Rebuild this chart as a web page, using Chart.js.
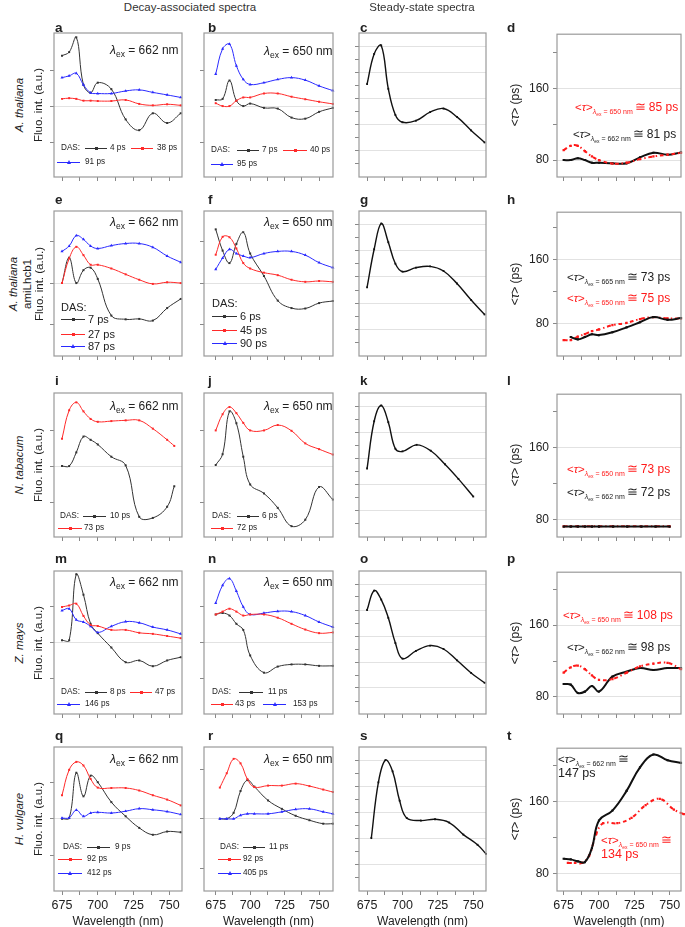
<!DOCTYPE html>
<html><head><meta charset="utf-8">
<script src="https://cdn.jsdelivr.net/npm/chart.js@4.4.1/dist/chart.umd.min.js"></script>
<style>
html,body{margin:0;padding:0;background:#fff;width:685px;height:927px;overflow:hidden;font-family:"Liberation Sans",Arial,Helvetica,sans-serif;color:#222}
#root{position:relative;width:685px;height:927px}
.abs{position:absolute;white-space:nowrap;line-height:1;transform:translateY(-50%)}
.ctr{position:absolute;white-space:nowrap;line-height:1;transform:translate(-50%,-50%)}
.rot{position:absolute;white-space:nowrap;line-height:1;transform:translate(-50%,-50%) rotate(-90deg)}
canvas{position:absolute}
.lt{position:absolute;font-weight:bold;font-size:13.5px;line-height:1;transform:translateY(-50%)}
</style></head><body><div id="root"></div>
<script>
// ---------- wavelengths (nm) ----------
const wl  = [675,680,685,690,695,700,709.5,719.5,729,738.5,748.5,758];
const wlB = [675,680,685,690,695,700,710,720,730,740,750,760];
const wlI = [675,680,685,690,695,700,709.5,719.5,729,738.5,748.5,753.5];
const wlK = [675,680,685,690,695,700,710,720,730,739.5,750];
const wlL = [675,680,685,690,695,700,710,720,730,740,750];
const wlR = [678,683,688,693,698,703,713,723,733,743,753,760];
const wlS = [678,683,688,693,698,703,713,723,733,743,753,759];
const xTickVals = [675,687.5,700,712.5,725,737.5,750];

// ---------- row 1: A. thaliana ----------
const a4   = [1.40,1.50,1.91,0.59,0.37,0.65,0.47,-0.37,-0.67,-0.20,-0.47,-0.20];
const a38  = [0.20,0.22,0.20,0.15,0.15,0.14,0.14,0.17,0.06,0.02,0.05,0.02];
const a91  = [0.79,0.84,0.91,0.59,0.37,0.35,0.35,0.42,0.45,0.38,0.31,0.24];
const b7   = [0.17,0.20,0.71,0.15,0.00,0.07,-0.05,-0.07,-0.32,-0.35,-0.16,-0.05];
const b40  = [0.08,0.00,0.00,0.15,0.24,0.24,0.35,0.35,0.26,0.19,0.12,0.06];
const b95  = [0.89,1.59,1.72,1.12,0.74,0.60,0.65,0.74,0.79,0.72,0.56,0.43];
const cSS  = [7.1,9.4,10.05,6.74,4.74,4.18,4.3,4.95,5.23,4.59,3.56,2.64];
const d662 = [80,80,82,80,77,77,76.3,76.3,83,88.2,86,88.6];
const d650 = [91,96,96,90,84,80,76,77,81,84,86,88];
// ---------- row 2: A. thaliana amiLhcb1 ----------
const e7   = [0,0.61,0,0.31,0.37,0.10,-0.78,-0.87,-0.86,-0.90,-0.60,-0.38];
const e27  = [0,0.59,0.87,0.67,0.44,0.44,0.35,0.21,0.08,-0.02,0.02,0];
const e87  = [0.76,0.89,1.14,1.05,0.89,0.83,0.90,0.95,0.95,0.86,0.65,0.50];
const f6   = [1.29,0.78,0.48,0.94,1.22,0.71,0.17,-0.42,-0.60,-0.61,-0.48,-0.43];
const f45  = [0.68,1.11,1.10,0.83,0.48,0.35,0.25,0.19,0.08,0.03,0.05,0.03];
const f90  = [0.33,0.60,0.81,0.71,0.65,0.61,0.71,0.76,0.76,0.67,0.49,0.37];
const gSS  = [5.2,8.1,10.05,8.63,7.0,6.4,6.7,6.8,6.45,5.5,4.25,3.15];
const h665 = [null,63.6,60.7,63.6,67,66,69.6,75.7,82,88.4,85,87.2];
const h650 = [59.9,59.9,64,67.3,71,73,78.4,81.2,86,88.4,86.8,86.8];
// ---------- row 3: N. tabacum ----------
const i10  = [0,0,0.38,0.82,0.73,0.60,0.26,0.02,-1.41,-1.44,-1.13,-0.56];
const i73  = [0.76,1.55,1.77,1.52,1.31,1.23,1.25,1.27,1.27,1.04,0.73,0.56];
const j6   = [0.03,0.33,1.52,1.19,0.26,-0.51,-0.76,-1.16,-1.67,-1.49,-0.58,-0.93];
const j72  = [0.99,1.44,1.64,1.47,1.20,0.99,0.99,1.14,0.98,0.63,0.47,0.32];
const kSS  = [5.23,8.84,10.05,8.77,6.74,6.54,7.04,6.59,5.56,4.44,3.09];
const l662 = [72.5,72.5,72.5,72.5,72.5,72.5,72.5,72.5,72.5,72.5,72.5];
const l650 = [72.8,72.8,72.8,72.8,72.8,72.8,72.8,72.8,72.8,72.8,72.8];
// ---------- row 4: Z. mays ----------
const m8   = [0.07,0.07,1.91,1.34,0.53,0.27,-0.13,-0.54,-0.49,-0.65,-0.49,-0.40];
const m47  = [1.0,1.04,1.09,0.75,0.50,0.47,0.36,0.36,0.28,0.25,0.19,0.13];
const m146 = [0.9,0.95,0.64,0.58,0.46,0.29,0.46,0.59,0.56,0.44,0.36,0.25];
const n11  = [0.79,0.83,0.76,0.53,0.36,-0.35,-0.83,-0.66,-0.60,-0.60,-0.64,-0.64];
const n43  = [0.79,0.87,0.95,0.87,0.76,0.79,0.79,0.70,0.53,0.37,0.27,0.29];
const n153 = [1.11,1.60,1.79,1.44,1.0,0.79,0.83,0.88,0.87,0.76,0.58,0.44];
const oSS  = [8.0,9.49,8.8,7.4,5.46,4.26,4.85,5.26,5.0,4.13,3.16,2.4];
const p662 = [94.4,93.7,84.4,85.9,92.2,86,102.6,108.1,112.2,110,112.2,112.2];
const p650 = [107,113,115,111,104,99,100,107,114,117,118,111];
// ---------- row 5: H. vulgare ----------
const q9   = [0,0.02,1.27,0.62,1.19,1.01,0.46,0.07,-0.25,-0.44,-0.35,-0.37];
const q92  = [0.65,1.35,1.57,1.47,1.10,0.86,0.85,0.85,0.78,0.65,0.53,0.37];
const q412 = [0.02,0.03,0.24,0.07,0.16,0.18,0.16,0.21,0.28,0.25,0.20,0.12];
const r11  = [0,0,0.12,0.56,0.78,0.65,0.37,0.20,0.06,-0.03,-0.10,-0.10];
const r92  = [0.63,0.92,1.21,1.12,0.80,0.64,0.67,0.67,0.71,0.66,0.59,0.54];
const r405 = [0,0,0,0.07,0.10,0.10,0.10,0.14,0.19,0.20,0.14,0.10];
const sSS  = [4.04,8.3,10.0,9.14,6.9,5.58,5.38,5.48,5.23,4.31,3.53,2.84];
const t662 = [96.7,96,93.8,93,108.6,139,150,171.8,197.8,212,205.7,202.7];
const t650 = [92,92,92,100,124,136,136,142,156,163,151,146];

// ---------- layout ----------
const FONT = '"Liberation Sans", Arial, Helvetica, sans-serif';
const COLX = [[54,182],[204,333],[359,486],[557,681]];
const ROWY = [[33,177],[211,356],[393,537],[571,714],[747,891]];
const XR = [[669.4,758.9],[666.5,760.1],[669.3,759],[670.3,758]];
const STY = {
  K:{c:'#333333',w:1,p:'rect',r:1.4},
  R:{c:'#ff2a2a',w:1,p:'rect',r:1.4},
  B:{c:'#2a2aff',w:1,p:'triangle',r:1.8},
  S:{c:'#111111',w:1.4,p:'rect',r:1.3},
  TK:{c:'#111111',w:2,p:'rect',r:1.5},
  TR:{c:'#ff1a1a',w:2,p:'rect',r:1.6,dash:[4,3,1.5,3]}
};
const root = document.getElementById('root');

function ds(xs, ys, key){
  const s = STY[key];
  return {data: xs.map((x,i)=>({x:x,y:ys[i]})), borderColor:s.c, backgroundColor:s.c,
    borderWidth:s.w, borderDash:s.dash||[], pointStyle:s.p, pointRadius:s.r, pointBorderWidth:0,
    tension:0.4, fill:false, clip:4};
}
const frame = {id:'frame', afterDraw(c){const a=c.chartArea,x=c.ctx;x.save();x.strokeStyle='#9a9a9a';x.lineWidth=1.2;
  x.strokeRect(a.left,a.top,a.right-a.left,a.bottom-a.top);x.restore();}};

function panel(col,row,ymin,ymax,kind,series){
  const [x0,x1]=COLX[col],[y0,y1]=ROWY[row];
  const PAD=10, YW = col===3?36:6, XH = row===4?22:6;
  const W=(x1-x0)+YW+2*PAD, H=(y1-y0)+XH+2*PAD;
  const cv=document.createElement('canvas');
  cv.style.left=(x0-PAD-YW)+'px'; cv.style.top=(y0-PAD)+'px'; cv.style.width=W+'px'; cv.style.height=H+'px';
  cv.width=W; cv.height=H; root.appendChild(cv);
  let yt, gridOn;
  if(kind==='das'){yt=[-1,0,1]; gridOn=v=>v===0;}
  else if(kind==='ss'){yt=[1,2,3,4,5,6,7,8,9,10]; gridOn=v=>v%2===0;}
  else {yt=[80,120,160,200]; gridOn=v=>v===80||v===160;}
  new Chart(cv,{type:'line',data:{datasets:series.map(s=>ds(s[0],s[1],s[2]))},
    options:{responsive:false,animation:false,events:[],layout:{padding:PAD},
      plugins:{legend:{display:false},tooltip:{enabled:false}},
      scales:{
        x:{type:'linear',min:XR[col][0],max:XR[col][1],
          afterBuildTicks:s=>{s.ticks=xTickVals.map(v=>({value:v}));},
          afterFit:s=>{s.height=XH;},
          grid:{drawOnChartArea:false,drawTicks:true,tickLength:4,tickColor:'#888',lineWidth:1},
          border:{display:false},
          ticks:{display:row===4,autoSkip:false,maxRotation:0,minRotation:0,padding:3,color:'#222',
            font:{size:12.5,family:FONT},callback:v=>(v%25===0?String(v):'')}},
        y:{type:'linear',min:ymin,max:ymax,
          afterBuildTicks:s=>{s.ticks=yt.map(v=>({value:v}));},
          afterFit:s=>{s.width=YW;},
          grid:{drawOnChartArea:true,drawTicks:true,tickLength:4,tickColor:'#888',lineWidth:1,
            color:c=>(c.tick&&gridOn(c.tick.value))?'#e2e2e2':'rgba(0,0,0,0)'},
          border:{display:false},
          ticks:{display:col===3,autoSkip:false,padding:4,color:'#222',font:{size:12,family:FONT},
            callback:v=>(v===80||v===160)?String(v):''}}
      }},plugins:[frame]});
}

// ---------- charts ----------
panel(0,0,-1.97,2.03,'das',[[wl,a38,'R'],[wl,a91,'B'],[wl,a4,'K']]);
panel(1,0,-1.97,2.03,'das',[[wlB,b40,'R'],[wlB,b95,'B'],[wlB,b7,'K']]);
panel(2,0,0,11,'ss',[[wl,cSS,'S']]);
panel(3,0,61,221,'tau',[[wl,d650,'TR'],[wl,d662,'TK']]);

panel(0,1,-1.75,1.73,'das',[[wl,e27,'R'],[wl,e87,'B'],[wl,e7,'K']]);
panel(1,1,-1.75,1.73,'das',[[wlB,f45,'R'],[wlB,f90,'B'],[wlB,f6,'K']]);
panel(2,1,0,11,'ss',[[wl,gSS,'S']]);
panel(3,1,40,219,'tau',[[wl,h665,'TK'],[wl,h650,'TR']]);

panel(0,2,-1.97,2.03,'das',[[wlI,i73,'R'],[wlI,i10,'K']]);
panel(1,2,-1.97,2.03,'das',[[wlB,j72,'R'],[wlB,j6,'K']]);
panel(2,2,0,11,'ss',[[wlK,kSS,'S']]);
panel(3,2,61,219,'tau',[[wlL,l662,'TK'],[wlL,l650,'TR']]);

panel(0,3,-1.98,2.0,'das',[[wl,m47,'R'],[wl,m146,'B'],[wl,m8,'K']]);
panel(1,3,-1.98,2.0,'das',[[wlB,n43,'R'],[wlB,n153,'B'],[wlB,n11,'K']]);
panel(2,3,0,11,'ss',[[wl,oSS,'S']]);
panel(3,3,61,219,'tau',[[wl,p650,'TR'],[wl,p662,'TK']]);

panel(0,4,-1.99,1.98,'das',[[wl,q92,'R'],[wl,q412,'B'],[wl,q9,'K']]);
panel(1,4,-1.46,1.45,'das',[[wlR,r92,'R'],[wlR,r405,'B'],[wlR,r11,'K']]);
panel(2,4,0,11,'ss',[[wlS,sSS,'S']]);
panel(3,4,61,219,'tau',[[wl,t662,'TK'],[wlR,t650,'TR']]);

// ---------- text helpers ----------
function txt(html,x,y,cls,style){const d=document.createElement('div');d.className=cls||'abs';d.innerHTML=html;
  d.style.left=x+'px';d.style.top=y+'px';if(style)d.style.cssText+=style;root.appendChild(d);return d;}
function legLine(x1,x2,y,color,shape){
  const l=document.createElement('div');l.style.cssText=`position:absolute;left:${x1}px;top:${y-0.5}px;width:${x2-x1}px;height:0;border-top:1px solid ${color}`;root.appendChild(l);
  const m=document.createElement('div');const cx=(x1+x2)/2;
  if(shape==='tri'){m.style.cssText=`position:absolute;left:${cx-2}px;top:${y-2.5}px;width:0;height:0;border-left:2px solid transparent;border-right:2px solid transparent;border-bottom:4px solid ${color}`;}
  else{m.style.cssText=`position:absolute;left:${cx-1.5}px;top:${y-1.5}px;width:3px;height:3px;background:${color}`;}
  root.appendChild(m);
}
const CK='#333', CR='#ff2a2a', CB='#2a2aff';
function item(x1,x2,y,color,shape,label,lx,fs){legLine(x1,x2,y,color,shape);txt(label,lx,y,'abs',`font-size:${fs}px`);}

// column titles
txt('Decay-associated spectra',190,8,'ctr','font-size:11.5px;color:#333');
txt('Steady-state spectra',422,8,'ctr','font-size:11.5px;color:#333');

// panel letters
const letters=[['a','b','c','d'],['e','f','g','h'],['i','j','k','l'],['m','n','o','p'],['q','r','s','t']];
const LX=[55,208,360,507], LY=[27.5,200,381,559,736];
letters.forEach((r,ri)=>r.forEach((L,ci)=>txt(L,LX[ci],LY[ri],'lt')));

// row labels
const RC=[105,283.5,465,642.5,819];
txt('<i>A. thaliana</i>',20,RC[0],'rot','font-size:11.5px');
txt('<i>A. thaliana</i>',14,RC[1],'rot','font-size:11.5px');
txt('amiLhcb1',28,RC[1],'rot','font-size:11.5px');
txt('<i>N. tabacum</i>',20,RC[2],'rot','font-size:11.5px');
txt('<i>Z. mays</i>',20,RC[3],'rot','font-size:11.5px');
txt('<i>H. vulgare</i>',20,RC[4],'rot','font-size:11.5px');
RC.forEach((y,i)=>{txt('Fluo. int. (a.u.)',i===1?40:39,y,'rot','font-size:11.5px');
  txt('&lt;<i>τ</i>&gt; (ps)',515,y,'rot','font-size:12px');});

// x axis titles
[118,268.5,422.5,619].forEach(x=>txt('Wavelength (nm)',x,921,'ctr','font-size:12px'));

// excitation labels
function lam(nm,x,y){txt(`<i>λ</i><span style="font-size:8.5px;position:relative;top:3px">ex</span> = ${nm} nm`,x,y,'abs','font-size:12px');}
lam(662,110,50); lam(650,264,51);
lam(662,110,222); lam(650,264,222);
lam(662,110,406); lam(650,264,406);
lam(662,110,582); lam(650,264,582);
lam(662,110,759); lam(650,264,759);

// DAS legends
const SF=8.2, BF=11;
txt('DAS:',61,148,'abs',`font-size:${SF}px`); item(85,107,148,CK,'sq','4 ps',110,SF); item(131,153,148,CR,'sq','38 ps',157,SF); item(57,80,162,CB,'tri','91 ps',85,SF);
txt('DAS:',211,150,'abs',`font-size:${SF}px`); item(237,259,150,CK,'sq','7 ps',262,SF); item(283,307,150,CR,'sq','40 ps',310,SF); item(211,233,164,CB,'tri','95 ps',237,SF);

txt('DAS:',61,307,'abs',`font-size:${BF}px`); item(61,85,319,CK,'sq','7 ps',88,BF); item(61,85,334,CR,'sq','27 ps',88,BF); item(61,85,346,CB,'tri','87 ps',88,BF);
txt('DAS:',212,303,'abs',`font-size:${BF}px`); item(212,237,316,CK,'sq','6 ps',240,BF); item(212,237,330,CR,'sq','45 ps',240,BF); item(212,237,343,CB,'tri','90 ps',240,BF);

txt('DAS:',60,516,'abs',`font-size:${SF}px`); item(83,106,516,CK,'sq','10 ps',110,SF); item(58,82,528,CR,'sq','73 ps',84,SF);
txt('DAS:',212,516,'abs',`font-size:${SF}px`); item(237,259,516,CK,'sq','6 ps',262,SF); item(211,233,528,CR,'sq','72 ps',237,SF);

txt('DAS:',61,692,'abs',`font-size:${SF}px`); item(85,107,692,CK,'sq','8 ps',110,SF); item(130,152,692,CR,'sq','47 ps',155,SF); item(57,80,704,CB,'tri','146 ps',85,SF);
txt('DAS:',212,692,'abs',`font-size:${SF}px`); item(239,263,692,CK,'sq','11 ps',268,SF); item(211,233,704,CR,'sq','43 ps',235,SF); item(263,286,704,CB,'tri','153 ps',293,SF);

txt('DAS:',63,847,'abs',`font-size:${SF}px`); item(87,110,847,CK,'sq','9 ps',115,SF); item(58,82,859,CR,'sq','92 ps',87,SF); item(58,82,873,CB,'tri','412 ps',87,SF);
txt('DAS:',220,847,'abs',`font-size:${SF}px`); item(243,265,847,CK,'sq','11 ps',269,SF); item(218,241,859,CR,'sq','92 ps',243,SF); item(218,241,873,CB,'tri','405 ps',243,SF);

// average lifetime annotations
function tau(x,y,color,nm,tail){
  txt(`<span style="font-size:11.5px">&lt;<i>τ</i>&gt;</span><span style="font-size:7px;position:relative;top:3px"><i>λ</i><span style="font-size:5px;position:relative;top:1.5px">ex</span> = ${nm} nm</span><span style="font-size:12.5px;margin-left:2px">≅</span>${tail?`<span style="font-size:12px;margin-left:3px">${tail}</span>`:''}`,x,y,'abs',`color:${color}`);
}
const TR_='#ff1a1a', TK_='#222';
tau(575,106,TR_,650,'85 ps'); tau(573,133,TK_,662,'81 ps');
tau(567,276,TK_,665,'73 ps'); tau(567,297,TR_,650,'75 ps');
tau(567,468,TR_,650,'73 ps'); tau(567,491,TK_,662,'72 ps');
tau(563,614,TR_,650,'108 ps'); tau(567,646,TK_,662,'98 ps');
tau(558,758,TK_,662,''); txt('147 ps',558,773,'abs','font-size:12.5px;color:#222');
tau(601,839,TR_,650,''); txt('134 ps',601,854,'abs','font-size:12.5px;color:#ff1a1a');
</script>
</body></html>
